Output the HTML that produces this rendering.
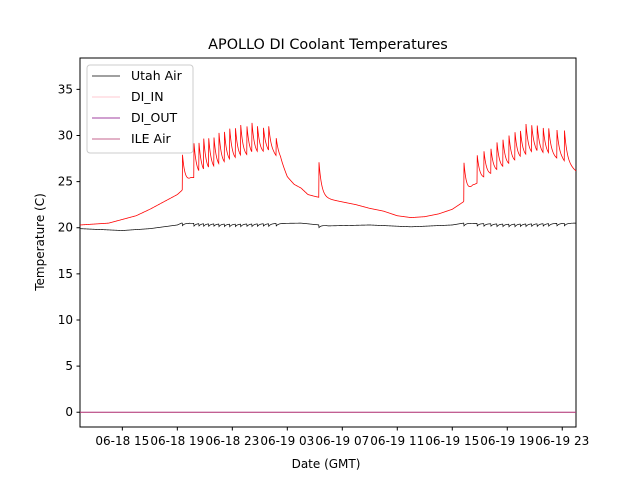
<!DOCTYPE html>
<html><head><meta charset="utf-8"><style>
body{margin:0;background:#fff}
svg{display:block;font-family:"DejaVu Sans","Liberation Sans",sans-serif}
</style></head><body>
<svg id="chart" width="640" height="480">
<rect width="640" height="480" fill="#fff"/>
<text x="328" y="49" text-anchor="middle" font-size="14.4">APOLLO DI Coolant Temperatures</text>
<g id="plot"></g>
<text x="326" y="468" text-anchor="middle" font-size="12">Date (GMT)</text>
<text transform="translate(44,242) rotate(-90)" text-anchor="middle" font-size="12">Temperature (C)</text>
</svg>
<script>
const yTicks=[0,5,10,15,20,25,30,35];
const xTickHours=[0,4,8,12,16,20,24,28,32];
const xTickLabels=["06-18 15","06-18 19","06-18 23","06-19 03","06-19 07","06-19 11","06-19 15","06-19 19","06-19 23"];
const redBaseH=[-3.08,-1,0,1,2,3,4,4.3,5,6,7,8,9,10,10.5,11,11.5,12,12.5,13,13.5,14,14.3,15,16,17,18,19,20,21,22,23,24,24.8,25.5,26,27,28,29,30,31,32,33];
const redBaseT=[20.3,20.5,20.9,21.3,22,22.8,23.6,24,25.3,25.7,26.3,27,27.5,27.8,28,27.8,27.3,25.5,24.7,24.3,23.6,23.4,23.3,23.1,22.8,22.5,22.1,21.8,21.3,21.1,21.2,21.5,22,22.8,24.5,25,25.8,26.5,27.3,27.9,27.7,27.2,26.1];
const spikeH=[4.36,5.21,5.56,5.92,6.28,6.65,7.03,7.42,7.81,8.22,8.61,9.05,9.43,9.82,10.25,10.65,11.18,14.3,24.85,25.8,26.3,26.8,27.25,27.68,28.12,28.56,28.95,29.36,29.77,30.18,30.6,31.01,31.6,32.15];
const spikePeak=[28.2,29.2,29.5,29.7,29.8,30.1,30.3,30.6,30.8,31.0,31.2,31.3,31.4,31.2,31.1,31.0,29.9,27.2,27.1,28.1,28.4,28.8,29.3,29.7,30.1,30.4,30.7,31.3,31.3,31.1,31.1,30.9,30.9,30.8];
const blackBaseH=[-3.08,0,2,4,4.3,8,13,15,18,21,24,24.8,28,33];
const blackBaseT=[19.9,19.7,19.9,20.3,20.5,20.4,20.5,20.2,20.3,20.1,20.3,20.5,20.4,20.5];
const diValue=0;

const L=80,R=576,T=58,B=427;
const hMin=-3.08,hMax=33.0,tMin=-1.6,tMax=38.4;
const X=h=>L+(h-hMin)/(hMax-hMin)*(R-L);
const Y=t=>B-(t-tMin)/(tMax-tMin)*(B-T);
const NS="http://www.w3.org/2000/svg";
const plot=document.getElementById('plot');
function mk(tag,attrs,parent){const e=document.createElementNS(NS,tag);for(const k in attrs)e.setAttribute(k,attrs[k]);(parent||plot).appendChild(e);return e;}
function interp(hs,ts,h){if(h<=hs[0])return ts[0];for(let i=1;i<hs.length;i++){if(h<=hs[i]){const f=(h-hs[i-1])/(hs[i]-hs[i-1]);return ts[i-1]+f*(ts[i]-ts[i-1]);}}return ts[ts.length-1];}
function redAt(h){let b=interp(redBaseH,redBaseT,h);let add=0;for(let i=0;i<spikeH.length;i++){const d=h-spikeH[i];if(d>=0&&d<2){const base=interp(redBaseH,redBaseT,spikeH[i]);add=Math.max(add,(spikePeak[i]-base)*Math.exp(-d/0.2));}}return b+add;}
function blackAt(h){let b=interp(blackBaseH,blackBaseT,h);let dip=0;for(let i=0;i<spikeH.length;i++){const d=h-spikeH[i];if(d>=0&&d<0.5)dip=Math.max(dip,0.3*Math.exp(-d/0.15));}return b-dip;}
mk('rect',{x:L,y:T,width:R-L,height:B-T,fill:'none',stroke:'#000','stroke-width':1});
yTicks.forEach(t=>{const y=Y(t);
 const tk=mk('line',{x1:L-3.5,x2:L,y1:y,y2:y,stroke:'#000'});
 
 const lb=mk('text',{x:L-7,y:y+4,'text-anchor':'end','font-size':12});lb.textContent=t;
 
});
xTickHours.forEach((h,i)=>{const x=X(h);
 const tk=mk('line',{x1:x,x2:x,y1:B,y2:B+3.5,stroke:'#000'});
 
 const lb=mk('text',{x:x,y:B+18,'text-anchor':'middle','font-size':12});lb.textContent=xTickLabels[i];
 
});
function series(fn,color,name,w){let d='';for(let px=L;px<=R;px+=0.25){const h=hMin+(px-L)/(R-L)*(hMax-hMin);d+=(d?'L':'M')+px.toFixed(2)+' '+Y(fn(h)).toFixed(2);}
 const p=mk('path',{d:d,fill:'none',stroke:color,'stroke-width':w||0.8});}
series(()=>diValue,'#ffb6c1','di-in-line');
series(()=>diValue,'#800080','di-out-line');
series(()=>diValue,'#b0306a','ile-air-line');
series(redAt,'#ff0000','red-temperature-line');
series(blackAt,'#000000','utah-air-line',0.7);
const lg=mk('g',{});


mk('rect',{x:87,y:65,width:106,height:88,rx:3,fill:'#fff','fill-opacity':0.8,stroke:'#ccc'},lg);
const legNames=["Utah Air","DI_IN","DI_OUT","ILE Air"];
const legColors=["#000000","#ffb6c1","#800080","#b0306a"];
legNames.forEach((n,i)=>{const y=76+i*21;
 const g=mk('g',{},lg);
 
 mk('line',{x1:92,x2:120,y1:y,y2:y,stroke:legColors[i],'stroke-width':0.7},g);
 const t=mk('text',{x:131,y:y+4,'font-size':12.5},g);t.textContent=n;
});
</script>
</body></html>
